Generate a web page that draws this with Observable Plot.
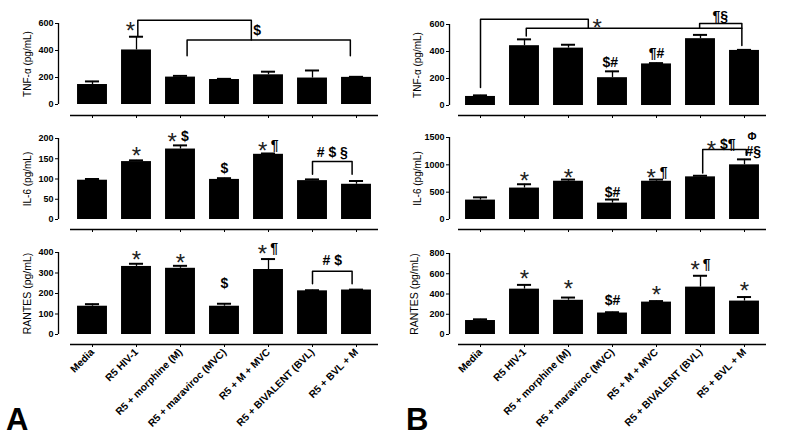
<!DOCTYPE html>
<html><head><meta charset="utf-8">
<script src="https://cdn.jsdelivr.net/npm/d3@7"></script>
<script src="https://cdn.jsdelivr.net/npm/@observablehq/plot@0.6"></script>
<style>
body{margin:0;background:#fff;}
#root{position:relative;width:800px;height:447px;overflow:hidden;font-family:"Liberation Sans",Arial,sans-serif;}
.panel{position:absolute;}
.panel svg{background:transparent !important;}
.letter{position:absolute;font:bold 31px "Liberation Sans",Arial,sans-serif;line-height:1;color:#000;}
</style></head><body><div id="root"></div>
<script>
const categories = ["Media","R5 HIV-1","R5 + morphine (M)","R5 + maraviroc (MVC)","R5 + M + MVC","R5 + BIVALENT (BVL)","R5 + BVL + M"];

// ---- Panel A values (mean, SEM) ----
const aTnfMean = [148, 404, 203, 185, 220, 196, 201];
const aTnfSem  = [23, 98, 9, 5, 23, 56, 4];
const aIl6Mean = [97, 143, 174, 99, 161, 96, 87];
const aIl6Sem  = [3, 3, 9, 3, 2, 3, 8];
const aRantesMean = [138, 332, 323, 138, 317, 213, 217];
const aRantesSem  = [10, 13, 12, 12, 51, 3, 2];
// ---- Panel B values ----
const bTnfMean = [67, 443, 425, 206, 308, 495, 408];
const bTnfSem  = [8, 47, 25, 47, 6, 28, 4];
const bIl6Mean = [355, 575, 700, 300, 700, 780, 1000];
const bIl6Sem  = [50, 70, 30, 65, 30, 20, 100];
const bRantesMean = [138, 448, 338, 212, 320, 468, 330];
const bRantesSem  = [12, 42, 27, 8, 10, 112, 40];

// y tick labels
const ticksTnf = [0, 200, 400, 600];
const ticksAIl6 = [0, 50, 100, 150, 200];
const ticksARantes = [0, 100, 200, 300, 400];
const ticksBIl6 = [0, 500, 1000, 1500];
const ticksBRantes = [0, 200, 400, 600, 800];

// significance asterisks: [x position (group index), y level (data units)]
const aTnfStars = [[0.86, 583]];
const aIl6Stars = [[1, 172], [1.81, 205], [3.87, 182]];
const aRantesStars = [[1, 392], [2, 378], [3.86, 420]];
const bTnfStars = [[2.65, 619]];
const bIl6Stars = [[1, 806], [2, 867], [3.88, 867], [5.25, 1378]];
const bRantesStars = [[1, 602], [2, 510], [4, 444], [4.88, 694], [6, 487]];

// other significance symbols: [x, y, text]
const aTnfSymbols = [[3.74, 546, "$"]];
const aIl6Symbols = [[2.1, 205, "$"], [3, 125, "$"], [4.14, 182, "¶"], [5.45, 166, "# $ §"]];
const aRantesSymbols = [[3, 248, "$"], [4.13, 420, "¶"], [5.45, 359, "# $"]];
const bTnfSymbols = [[5.45, 656, "¶§"], [2.95, 320, "$#"], [4, 383, "¶#"]];
const bIl6Symbols = [[3, 498, "$#"], [4.16, 867, "¶"], [5.62, 1378, "$¶"], [6.2, 1236, "#§"]];
const bIl6Phi = [[6.17, 1513, "Φ"]];
const bRantesSymbols = [[3, 332, "$#"], [5.14, 694, "¶"]];

// comparison brackets: polylines of [x, y]
const aTnfBrackets = [
  [[1.03, 505], [1.03, 625], [3.61, 625], [3.61, 478]],
  [[2.15, 362], [2.15, 478], [5.86, 478], [5.86, 362]]
];
const aIl6Brackets = [[[5.0, 112], [5.0, 143], [5.9, 143], [5.9, 112]]];
const aRantesBrackets = [[[5.0, 248], [5.0, 308], [5.9, 308], [5.9, 248]]];
const bTnfBrackets = [
  [[0, 134], [0, 639], [2.45, 639], [2.45, 572]],
  [[1.04, 514], [1.04, 572], [5.94, 572], [5.94, 445]],
  [[4.98, 572], [4.98, 607], [5.94, 607], [5.94, 572]]
];
const bIl6Brackets = [[[5.05, 849], [5.05, 1280], [6.04, 1280], [6.04, 1175]]];
const bRantesBrackets = [];

const FONT = "Liberation Sans, Arial, Helvetica, sans-serif";

function panel(o) {
  const rows = o.mean.map((m, i) => ({i, mean: m, top: m + o.sem[i]}));
  const br = [];
  o.brackets.forEach((b, k) => b.forEach(([x, y]) => br.push({id: k, x, y})));
  const stars = o.stars.map(([x, y]) => ({x, y}));
  const syms = o.symbols.map(([x, y, t]) => ({x, y, t}));
  const yMax = o.ticks[o.ticks.length - 1];
  const marks = [
    Plot.ruleX([-0.5], {y1: 0, y2: yMax, dx: o.yDx, strokeWidth: 1.3}),
    Plot.axisY({ticks: o.ticks, tickFormat: d => String(d), dx: o.yDx, tickSize: 3, tickPadding: 2, fontWeight: "bold", fontSize: 9, label: null}),
    Plot.ruleY([0], {dy: o.axisDy, strokeWidth: 1.3}),
    Plot.axisX({ticks: d3.range(categories.length), tickFormat: o.showX ? (i => categories[i]) : (() => ""),
      tickSize: 3, tickPadding: 3, dy: o.axisDy, tickRotate: o.showX ? -45 : 0, fontWeight: "bold", fontSize: 10.2, label: null}),
    Plot.rect(rows, {x1: d => d.i - 0.34, x2: d => d.i + 0.34, y1: 0, y2: "mean", fill: "#000"}),
    Plot.ruleX(rows, {x: "i", y1: "mean", y2: "top", strokeWidth: 1.3}),
    Plot.ruleY(rows, {y: "top", x1: d => d.i - 0.16, x2: d => d.i + 0.16, strokeWidth: 2}),
    Plot.line(br, {x: "x", y: "y", z: "id", strokeWidth: 1.5}),
    Plot.text(stars, {x: "x", y: "y", text: () => "*", fontSize: 24, dy: 6, fill: "#222"}),
    Plot.text(syms, {x: "x", y: "y", text: "t", fontSize: 14, fontWeight: "bold"}),
    Plot.text([o.label], {frameAnchor: "left", textAnchor: "middle", rotate: -90, dx: o.labelDx, fontSize: o.labelSize || 10})
  ];
  if (o.extra) marks.push(Plot.text(o.extra.map(([x, y, t]) => ({x, y, t})), {x: "x", y: "y", text: "t", fontSize: 11, fontWeight: "bold"}));
  const svg = Plot.plot({
    width: o.width, height: o.height,
    marginTop: o.mt, marginBottom: o.mb, marginLeft: o.ml, marginRight: o.mr,
    x: {type: "linear", domain: [-0.5, categories.length - 0.5]},
    y: {type: "linear", domain: [0, yMax]},
    style: {fontFamily: FONT, background: "transparent", color: "#000"},
    marks
  });
  const div = document.createElement("div");
  div.className = "panel";
  div.style.left = o.left + "px";
  div.style.top = o.top + "px";
  div.appendChild(svg);
  document.getElementById("root").appendChild(div);
}

const colA = {left: 0, width: 400, ml: 70, mr: 22, yDx: -12, labelDx: -43};
const colB = {left: 400, width: 400, ml: 58, mr: 34, yDx: -9, labelDx: -41};

panel({...colA, top: 0, height: 125, mt: 23, mb: 21, axisDy: 11, mean: aTnfMean, sem: aTnfSem, ticks: ticksTnf,
  label: "TNF-α (pg/mL)", brackets: aTnfBrackets, stars: aTnfStars, symbols: aTnfSymbols});
panel({...colA, top: 125, height: 115, mt: 13, mb: 21, axisDy: 10, mean: aIl6Mean, sem: aIl6Sem, ticks: ticksAIl6,
  label: "IL-6 (pg/mL)", brackets: aIl6Brackets, stars: aIl6Stars, symbols: aIl6Symbols});
panel({...colA, top: 240, height: 207, mt: 12, mb: 113, axisDy: 10, mean: aRantesMean, sem: aRantesSem, ticks: ticksARantes,
  label: "RANTES (pg/mL)", labelSize: 10.5, brackets: aRantesBrackets, stars: aRantesStars, symbols: aRantesSymbols, showX: true});

panel({...colB, top: 0, height: 125, mt: 24, mb: 20, axisDy: 10, mean: bTnfMean, sem: bTnfSem, ticks: ticksTnf,
  label: "TNF-α (pg/mL)", brackets: bTnfBrackets, stars: bTnfStars, symbols: bTnfSymbols});
panel({...colB, top: 125, height: 115, mt: 12, mb: 21, axisDy: 10, mean: bIl6Mean, sem: bIl6Sem, ticks: ticksBIl6,
  label: "IL-6 (pg/mL)", brackets: bIl6Brackets, stars: bIl6Stars, symbols: bIl6Symbols, extra: bIl6Phi});
panel({...colB, top: 240, height: 207, mt: 13, mb: 113, axisDy: 10, mean: bRantesMean, sem: bRantesSem, ticks: ticksBRantes,
  label: "RANTES (pg/mL)", labelSize: 10.5, labelDx: -44, brackets: bRantesBrackets, stars: bRantesStars, symbols: bRantesSymbols, showX: true});

for (const [t, l] of [["A", 6], ["B", 406]]) {
  const d = document.createElement("div");
  d.className = "letter";
  d.textContent = t;
  d.style.left = l + "px";
  d.style.top = "404px";
  document.getElementById("root").appendChild(d);
}
</script></body></html>
